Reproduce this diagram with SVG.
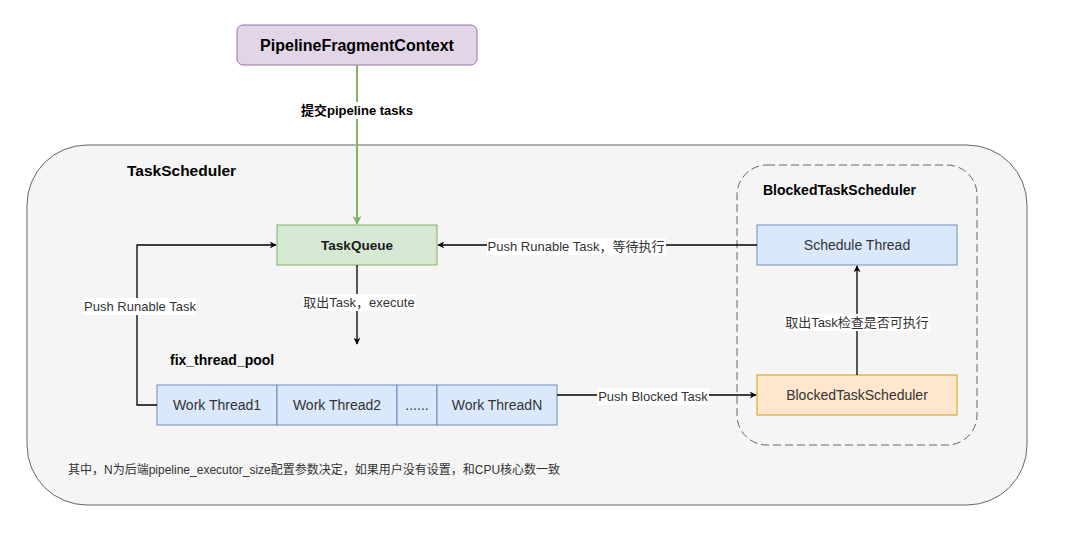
<svg xmlns="http://www.w3.org/2000/svg" width="1079" height="542" viewBox="0 0 1079 542">
<style>
text{font-family:"Liberation Sans","Noto Sans CJK SC",sans-serif;}
.t{font-size:14px;fill:#333;text-anchor:middle;dominant-baseline:central;}
.b{font-size:14px;font-weight:bold;fill:#000;dominant-baseline:central;}
.lbl{font-size:13px;fill:#333;text-anchor:middle;dominant-baseline:central;}
.e{fill:none;stroke:#000;stroke-width:1.3;}
.blue{fill:#dae8fc;stroke:#6c8ebf;}
</style>
<defs>
<marker id="a" viewBox="0 0 10 10" refX="9" refY="5" markerWidth="7" markerHeight="7" orient="auto" markerUnits="userSpaceOnUse">
<path d="M0,0 L10,5 L0,10 L3,5 Z" fill="#000"/>
</marker>
<marker id="g" viewBox="0 0 10 10" refX="9" refY="5" markerWidth="9" markerHeight="9" orient="auto" markerUnits="userSpaceOnUse">
<path d="M0,0 L10,5 L0,10 L3,5 Z" fill="#82b366"/>
</marker>
</defs>
<rect width="1079" height="542" fill="#fff"/>
<g id="taskscheduler">
<rect x="27" y="145" width="1000" height="360" rx="60" fill="#f5f5f5" stroke="#666"/>
<text class="b" x="127" y="170" style="font-size:15.5px">TaskScheduler</text>
</g>
<g id="blockedgroup">
<rect x="737" y="165" width="240" height="280" rx="30" fill="none" stroke="#666" stroke-dasharray="8 4"/>
<text class="b" x="763" y="190">BlockedTaskScheduler</text>
</g>
<g id="pfc">
<rect x="237" y="25" width="240" height="40" rx="6" fill="#e1d5e7" stroke="#9673a6"/>
<text class="b" x="357" y="45" text-anchor="middle" style="font-size:16px">PipelineFragmentContext</text>
</g>
<g id="taskqueue">
<rect x="277" y="225" width="160" height="40" fill="#d5e8d4" stroke="#82b366"/>
<text class="b" x="357" y="245" text-anchor="middle" style="font-size:13.5px;fill:#1a1a1a">TaskQueue</text>
</g>
<g id="pool">
<text class="b" x="170" y="360">fix_thread_pool</text>
</g>
<g id="wt1"><rect class="blue" x="157" y="385" width="120" height="40"/><text class="t" x="217" y="405">Work Thread1</text></g>
<g id="wt2"><rect class="blue" x="277" y="385" width="120" height="40"/><text class="t" x="337" y="405">Work Thread2</text></g>
<g id="wtdots"><rect class="blue" x="397" y="385" width="40" height="40"/><text class="t" x="417" y="405">......</text></g>
<g id="wtn"><rect class="blue" x="437" y="385" width="120" height="40"/><text class="t" x="497" y="405">Work ThreadN</text></g>
<g id="schedthread"><rect class="blue" x="757" y="225" width="200" height="40"/><text class="t" x="857" y="245">Schedule Thread</text></g>
<g id="blockedsched"><rect x="757" y="375" width="200" height="40" fill="#ffe6cc" stroke="#d79b00"/><text class="t" x="857" y="395">BlockedTaskScheduler</text></g>
<g id="connectors">
<path d="M357,65 L357,224" fill="none" stroke="#82b366" stroke-width="2" marker-end="url(#g)"/>
<rect x="300" y="102" width="115" height="17" fill="#fff"/>
<text class="lbl" x="357" y="110" style="font-weight:bold;fill:#000">提交pipeline tasks</text>
<path class="e" d="M157,405 L137,405 L137,245 L276,245" marker-end="url(#a)"/>
<rect x="83" y="298" width="113" height="17" fill="#fff"/>
<text class="lbl" x="140" y="306">Push Runable Task</text>
<path class="e" d="M357,265 L357,344" marker-end="url(#a)"/>
<rect x="303" y="294" width="113" height="17" fill="#fff"/>
<text class="lbl" x="359" y="302">取出Task，execute</text>
<path class="e" d="M757,245 L438,245" marker-end="url(#a)"/>
<rect x="487" y="238" width="179" height="17" fill="#fff"/>
<text class="lbl" x="576" y="246">Push Runable Task，等待执行</text>
<path class="e" d="M557,395 L756,395" marker-end="url(#a)"/>
<rect x="597" y="388" width="112" height="17" fill="#fff"/>
<text class="lbl" x="653" y="396">Push Blocked Task</text>
<path class="e" d="M857,375 L857,266" marker-end="url(#a)"/>
<rect x="784" y="314" width="146" height="17" fill="#fff"/>
<text class="lbl" x="857" y="322">取出Task检查是否可执行</text>
</g>
<text x="68" y="470" style="font-size:12px;fill:#333;dominant-baseline:central">其中，N为后端pipeline_executor_size配置参数决定，如果用户没有设置，和CPU核心数一致</text>
</svg>
